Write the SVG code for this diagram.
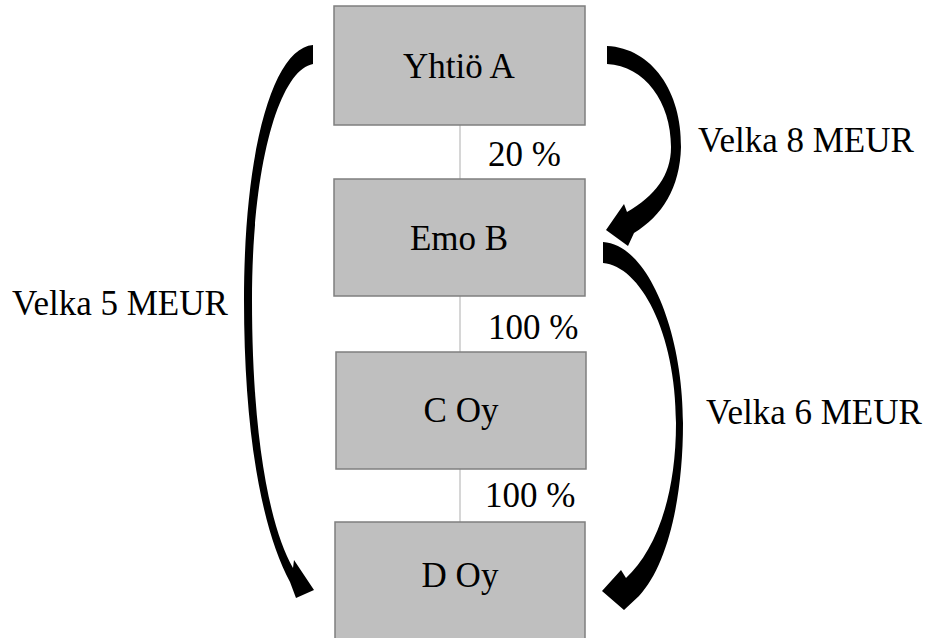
<svg xmlns="http://www.w3.org/2000/svg" width="931" height="638" viewBox="0 0 931 638">
<style>
.box{fill:#bfbfbf;stroke:#7f7f7f;stroke-width:1.5}
text{font-family:'Liberation Serif','Times New Roman','DejaVu Serif',serif;font-size:35px;fill:#000}
.c{text-anchor:middle}
.link{stroke:#c8c8c8;stroke-width:1.5;fill:none}
.arrow{fill:#000;stroke:none}
</style>
<rect width="931" height="638" fill="#fff"/>
<g id="connectors" font-family="Liberation Serif, serif">
<line class="link" x1="460" y1="125" x2="460" y2="179"/>
<line class="link" x1="460" y1="296" x2="460" y2="352"/>
<line class="link" x1="460" y1="469" x2="460" y2="522"/>
<path class="arrow" d="M607,46 C652,48 682,92 681,147 C680,188 662,216 634,233 L628,246 L606,230 L624,204 L627,212 C655,196 671,175 671,147 C671,102 645,66 607,64 Z"/>
<path class="arrow" d="M603,242 C647,244 683,330 683,423 C683,500 667,566 639,596 L624,610 L602,591 L621,570 L626,578 C654,552 676,500 676,423 C676,332 640,266 603,263 Z"/>
<path class="arrow" d="M313,45 C273,48 244,150 244,300 C244,430 261,528 290,582 L296,598 L314,590 L294,560 L293,568 C268,524 252,430 252,300 C252,162 280,70 313,64 Z"/>
<text x="488" y="166">20 %</text>
<text x="488" y="339">100 %</text>
<text x="485" y="507">100 %</text>
<text x="698" y="152">Velka 8 MEUR</text>
<text x="12" y="315">Velka 5 MEUR</text>
<text x="706" y="424">Velka 6 MEUR</text>
</g>
<g id="nodeA" font-family="Liberation Serif, serif"><rect class="box" x="334" y="6" width="251" height="119"/><text class="c" x="459" y="78">Yhtiö A</text></g>
<g id="nodeB" font-family="Liberation Serif, serif"><rect class="box" x="334" y="179" width="251" height="117"/><text class="c" x="459" y="250">Emo B</text></g>
<g id="nodeC" font-family="Liberation Serif, serif"><rect class="box" x="336" y="352" width="250" height="117"/><text class="c" x="461" y="422">C Oy</text></g>
<g id="nodeD" font-family="Liberation Serif, serif"><rect class="box" x="335" y="522" width="250" height="125"/><text class="c" x="460" y="587">D Oy</text></g>
</svg>
